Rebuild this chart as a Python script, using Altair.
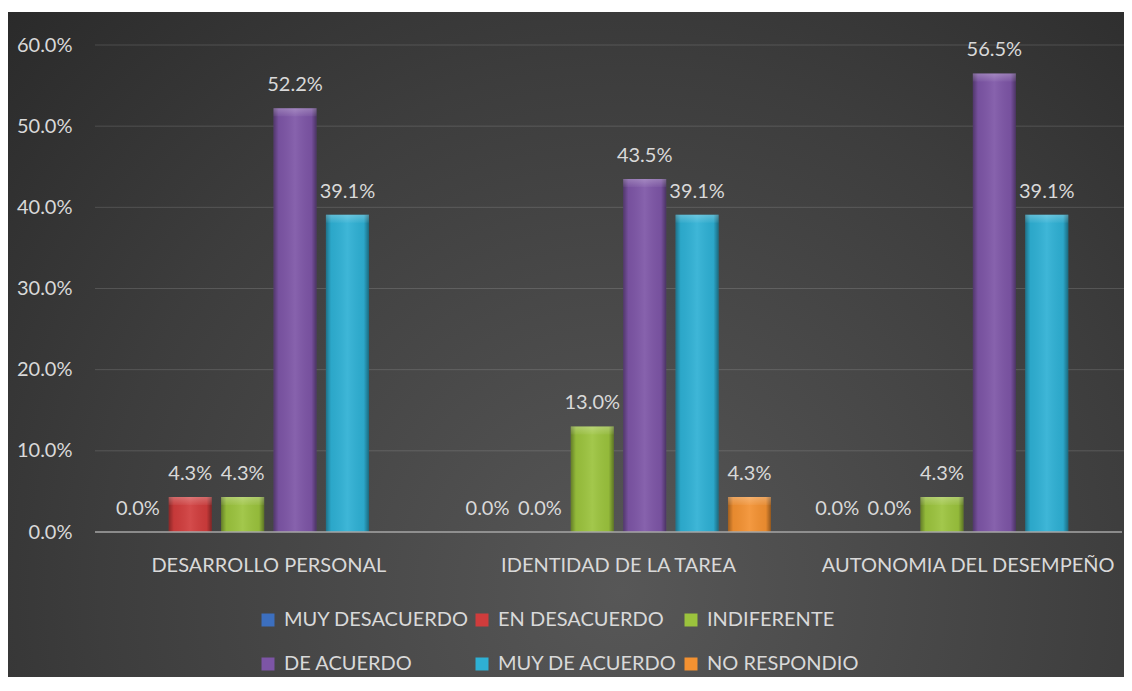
import altair as alt
import pandas as pd

groups = ["DESARROLLO PERSONAL", "IDENTIDAD DE LA TAREA", "AUTONOMIA DEL DESEMPEÑO"]
series = ["MUY DESACUERDO", "EN DESACUERDO", "INDIFERENTE", "DE ACUERDO", "MUY DE ACUERDO", "NO RESPONDIO"]
colors = ["#3c6fbf", "#d03c3c", "#9bc33d", "#7d55a6", "#2eb0d4", "#f39131"]

muy_desacuerdo = [0.0, 0.0, 0.0]
en_desacuerdo = [4.3, 0.0, 0.0]
indiferente = [4.3, 13.0, 4.3]
de_acuerdo = [52.2, 43.5, 56.5]
muy_de_acuerdo = [39.1, 39.1, 39.1]
no_respondio = [None, 4.3, None]

y_ticks = [0.0, 0.1, 0.2, 0.3, 0.4, 0.5, 0.6]

rows = []
for s, vals in zip(series, [muy_desacuerdo, en_desacuerdo, indiferente, de_acuerdo, muy_de_acuerdo, no_respondio]):
    for g, v in zip(groups, vals):
        if v is not None:
            rows.append({"grupo": g, "serie": s, "valor": v / 100.0})
df = pd.DataFrame(rows)
grid_df = pd.DataFrame({"y": [t for t in y_ticks if t > 0]})

W, H = 1027, 487
PL, PT, PR, PB = 87, 37, 2, 145
FONT = "Lato"
TXT = "#d9d9d9"
FS = 20

yscale = alt.Scale(domain=[0, 0.6], nice=False)
x_enc = alt.X("grupo:N", sort=groups, scale=alt.Scale(range=[-1, 1048], paddingInner=0, paddingOuter=0),
              axis=alt.Axis(title=None, domain=False, ticks=False, tickSize=0, labelAngle=0, labelPadding=23,
                            labelFontSize=FS, labelFont=FONT, labelColor=TXT, zindex=1, grid=False,
                            labelLimit=1000))
xo_enc = alt.XOffset("serie:N", sort=series, scale=alt.Scale(domain=series, paddingInner=0.179, paddingOuter=0.4265))
y_enc = alt.Y("valor:Q", scale=yscale,
              axis=alt.Axis(title=None, format=".1%", values=y_ticks, domain=False, ticks=False, tickSize=0,
                            grid=False, labelPadding=23, labelFontSize=FS, labelFont=FONT, labelColor=TXT, zindex=1))

bg = alt.Chart(alt.Data(values=[{"a": 1}])).mark_rect(
    color=alt.RadialGradient(
        gradient="radial",
        stops=[alt.GradientStop(offset=0, color="#575757"),
               alt.GradientStop(offset=0.55, color="#3d3d3d"),
               alt.GradientStop(offset=1, color="#242424")],
        x1=0.55, y1=0.72, r1=0, x2=0.55, y2=0.72, r2=0.85)
).encode(x=alt.value(-PL), x2=alt.value(W + PR), y=alt.value(-PT + 4), y2=alt.value(H + PB))

grid = alt.Chart(grid_df).mark_rule(color="#ffffff", opacity=0.14, strokeWidth=1).encode(
    y=alt.Y("y:Q", scale=yscale), x=alt.value(0), x2=alt.value(W + PR))

bars = alt.Chart(df).mark_bar().encode(
    x=x_enc, xOffset=xo_enc, y=y_enc,
    color=alt.Color("serie:N", sort=series, scale=alt.Scale(domain=series, range=colors),
                    legend=alt.Legend(title=None, orient="none", legendX=163, legendY=565, columns=3,
                                      direction="horizontal", symbolType="square", symbolSize=169,
                                      symbolStrokeWidth=0, labelFontSize=FS, labelFont=FONT, labelColor=TXT,
                                      labelOffset=6, columnPadding=3, rowPadding=24, padding=0, labelLimit=300)))

shade = alt.Chart(df).mark_bar(
    color=alt.LinearGradient(
        gradient="linear", x1=0, y1=0, x2=1, y2=0,
        stops=[alt.GradientStop(offset=0, color="rgba(0,0,0,0.35)"),
               alt.GradientStop(offset=0.12, color="rgba(0,0,0,0.05)"),
               alt.GradientStop(offset=0.5, color="rgba(255,255,255,0.08)"),
               alt.GradientStop(offset=0.88, color="rgba(0,0,0,0.05)"),
               alt.GradientStop(offset=1, color="rgba(0,0,0,0.4)")])
).encode(x=x_enc, xOffset=xo_enc, y=y_enc)

bevel = alt.Chart(df).transform_filter("datum.valor > 0").mark_tick(
    orient="horizontal", thickness=8, size=43, yOffset=4,
    color=alt.LinearGradient(
        gradient="linear", x1=0, y1=0, x2=0, y2=1,
        stops=[alt.GradientStop(offset=0, color="rgba(255,255,255,0.35)"),
               alt.GradientStop(offset=1, color="rgba(255,255,255,0.06)")])
).encode(x=x_enc, xOffset=xo_enc, y=y_enc)

labels = alt.Chart(df).mark_text(baseline="alphabetic", dy=-17, fontSize=FS, font=FONT, color=TXT).encode(
    x=x_enc, xOffset=xo_enc, y=y_enc, text=alt.Text("valor:Q", format=".1%"))

baseline = alt.Chart(alt.Data(values=[{"v": 0}])).mark_rule(color="#a6a6a6", strokeWidth=1.6).encode(
    y=alt.Y("v:Q", scale=yscale), x=alt.value(0), x2=alt.value(W))

chart = alt.layer(bg, grid, bars, shade, bevel, baseline, labels).properties(
    width=W, height=H,
    autosize=alt.AutoSizeParams(type="none"),
    padding={"left": PL, "top": PT, "right": PR, "bottom": PB},
    background="white",
).configure_view(strokeWidth=0)

chart.save("out.html", embed_options={"renderer": "svg", "actions": False})
